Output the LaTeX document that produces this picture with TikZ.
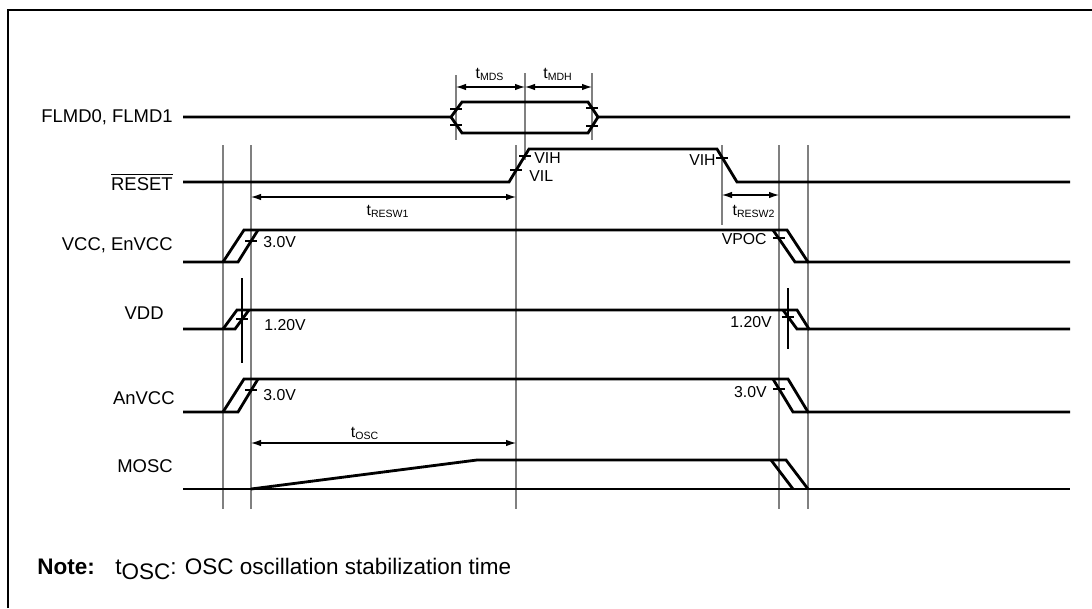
\documentclass[tikz,border=0pt]{standalone}
\usepackage{fontspec}
\setmainfont{Liberation Sans}
\usetikzlibrary{arrows.meta}

\begin{document}
\begin{tikzpicture}[x=0.2mm, y=-0.2mm,
  sig/.style={line width=1.6pt, line join=miter},
  guide/.style={line width=0.6pt, black!50},
  marker/.style={line width=0.6pt, black},
  tickmark/.style={line width=0.6pt, black},
  dim/.style={line width=0.6pt, {Latex[length=2mm,width=1.3mm]}-{Latex[length=2mm,width=1.3mm]}},
  lbl/.style={font=\fontsize{10.5}{12}\selectfont, anchor=east, inner sep=0pt},
  small/.style={font=\fontsize{9}{10}\selectfont, inner sep=0pt},
  notefont/.style={font=\fontsize{12.8}{15}\selectfont, anchor=base west, inner sep=0pt}]
  \useasboundingbox (0,0) rectangle (1092,608);

  % frame
  \draw[line width=1.6pt] (8,608) -- (8,10) -- (1092,10);

  % guide lines
  \foreach \gx in {223,251,516,779,808}
    \draw[guide] (\gx,145) -- (\gx,509);
  \draw[guide] (722,145) -- (722,225);
  \draw[guide] (456,75) -- (456,140);
  \draw[guide] (525,73) -- (525,160);
  \draw[guide] (592,73) -- (592,140);
  \draw[marker] (242,278) -- (242,363);
  \draw[marker] (788,288) -- (788,349);

  % signal names
  \node[lbl] (flmd) at (173,117) {FLMD0, FLMD1};
  \node[lbl] (reset) at (173,182) {$\overline{\mbox{RESET}}$};
  \node[lbl] (vcc) at (173,245) {VCC, EnVCC};
  \node[lbl] (vdd) at (164,313) {VDD};
  \node[lbl] (anvcc) at (175,398) {AnVCC};
  \node[lbl] (mosc) at (173,466) {MOSC};

  % FLMD0, FLMD1
  \draw[sig] (183,117) -- (451,117) -- (462,102) -- (588,102) -- (598,117) -- (1070,117);
  \draw[sig] (451,117) -- (462,133) -- (588,133) -- (598,117);

  % RESET
  \draw[sig] (183,182) -- (509,182) -- (529,149) -- (717,149) -- (737,182) -- (1070,182);

  % VCC, EnVCC
  \draw[sig] (183,262) -- (238,262) -- (258,230);
  \draw[sig] (223,262) -- (244,230) -- (787,230) -- (808,262) -- (1070,262);
  \draw[sig] (773,230) -- (795,262) -- (808,262);

  % VDD
  \draw[sig] (183,329) -- (235,329) -- (249,310);
  \draw[sig] (223,329) -- (237,310) -- (797,310) -- (809,329) -- (1070,329);
  \draw[sig] (783,310) -- (797,329) -- (809,329);

  % AnVCC
  \draw[sig] (183,412) -- (238,412) -- (258,379);
  \draw[sig] (223,412) -- (244,379) -- (788,379) -- (808,412) -- (1070,412);
  \draw[sig] (773,379) -- (793,412) -- (808,412);

  % MOSC
  \draw[sig] (183,489) -- (1070,489);
  \draw[sig] (251,489) -- (477,460) -- (786,460) -- (808,489);
  \draw[sig] (771,460) -- (793,489);

  % level ticks
  \foreach \p in {(456,109),(456,125),(592,108),(592,126),(525,156),(516,170),
                  (722,158),(251,241),(242,319),(251,390),(779,238),(788,317),(779,389)}
    \draw[tickmark] \p ++(-6,0) -- ++(12,0);

  % level labels
  \node[small, anchor=west] (vih1) at (534,158) {VIH};
  \node[small, anchor=west] (vil1) at (529,176) {VIL};
  \node[small, anchor=east] (vih2) at (716,160) {VIH};
  \node[small, anchor=west] (vcclo) at (263,242) {3.0V};
  \node[small, anchor=west] (vddlo) at (264,325) {1.20V};
  \node[small, anchor=west] (anlo) at (263,395) {3.0V};
  \node[small, anchor=east] (vpoc) at (767,239) {VPOC};
  \node[small, anchor=east] (vddhi) at (772,322) {1.20V};
  \node[small, anchor=east] (anhi) at (767,392) {3.0V};

  % timing arrows
  \coordinate (mdsL) at (456,87);
  \coordinate (mdsR) at (525,87);
  \coordinate (mdhR) at (592,87);
  \coordinate (resw1L) at (251,197);
  \coordinate (resw1R) at (516,197);
  \coordinate (resw2L) at (722,195);
  \coordinate (resw2R) at (779,195);
  \coordinate (oscL) at (251,443);
  \coordinate (oscR) at (516,443);
  \draw[dim] (mdsL) -- (mdsR);
  \draw[dim] (mdsR) -- (mdhR);
  \draw[dim] (resw1L) -- (resw1R);
  \draw[dim] (resw2L) -- (resw2R);
  \draw[dim] (oscL) -- (oscR);
  \node[small] (tmds) at (490,74) {t\textsubscript{MDS}};
  \node[small] (tmdh) at (558,74) {t\textsubscript{MDH}};
  \node[small] (tresw1) at (388,211) {t\textsubscript{RESW1}};
  \node[small] (tresw2) at (754,211) {t\textsubscript{RESW2}};
  \node[small] (tosc) at (365,433) {t\textsubscript{OSC}};

  % note
  \node[notefont] (note) at (37,574) {\bfseries Note:};
  \node[notefont] (notetext) at (115,574) {t\raisebox{-3.3pt}{OSC}: OSC oscillation stabilization time};
\end{tikzpicture}
\end{document}
